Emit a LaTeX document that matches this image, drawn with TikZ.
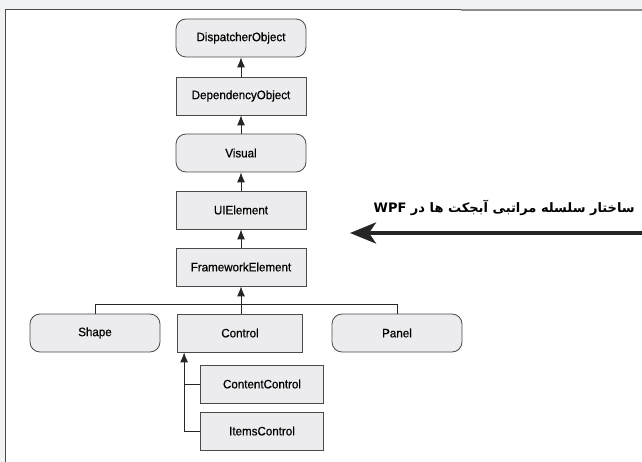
\documentclass[tikz,border=0pt]{standalone}
\usepackage{fontspec}
\usetikzlibrary{arrows.meta}
\TeXXeTstate=1
\newfontfamily\boxfont{Liberation Sans}[FakeStretch=0.95,FakeBold=0.5]
\newfontfamily\persianfont[Script=Arabic]{DejaVu Sans}
\definecolor{boxgray}{HTML}{ECECEE}
\definecolor{edgegray}{HTML}{4A4A4A}
\definecolor{bandgray}{HTML}{F1F2F4}
\tikzset{
    cls/.style={draw=edgegray,fill=boxgray,line width=0.8pt,minimum width=130pt,
        minimum height=38pt,inner sep=0pt,font=\boxfont\fontsize{12.2}{14}\selectfont},
    rcls/.style={cls,rounded corners=10pt},
    sub/.style={cls,minimum width=123pt},
    inh/.style={draw=black!85,line width=0.9pt,-{Latex[length=10pt,width=8pt]}},
    link/.style={draw=black!85,line width=0.9pt},
    bigarr/.style={draw=black!85,line width=4pt,-{Stealth[length=26pt,width=21pt,inset=7pt]}}
}
\begin{document}
\begin{tikzpicture}[x=1pt,y=-1pt]
    \useasboundingbox (0,0) rectangle (642,462);
    % frame
    \fill[bandgray] (0,0) rectangle (642,10);
    \fill[bandgray] (0,10) rectangle (5,462);
    \draw[edgegray,line width=1pt] (5,462) -- (5,10) -- (461,10);
    \draw[black!45,line width=1.6pt] (461,10.3) -- (642,10.3);
    % main chain
    \node[rcls] (disp) at (241,38) {DispatcherObject};
    \node[cls] (dep) at (241,96) {DependencyObject};
    \node[rcls] (vis) at (241,153) {Visual};
    \node[cls] (uie) at (241,210) {UIElement};
    \node[cls] (fwe) at (241,267) {FrameworkElement};
    \draw[inh] (dep) -- (disp);
    \draw[inh] (vis) -- (dep);
    \draw[inh] (uie) -- (vis);
    \draw[inh] (fwe) -- (uie);
    % children of FrameworkElement
    \node[rcls] (shape) at (95,333) {Shape};
    \node[cls,minimum width=125pt] (ctrl) at (240,333) {Control};
    \node[rcls] (panel) at (397,333) {Panel};
    \coordinate (bus) at (241,304);
    \draw[link] (shape.north) -- (shape.north |- bus) -- (panel.north |- bus) -- (panel.north);
    \draw[link] (ctrl.north -| bus) -- (bus);
    \draw[inh] (bus) -- (fwe);
    % children of Control
    \node[sub] (cc) at (262,384) {ContentControl};
    \node[sub] (ic) at (262,431) {ItemsControl};
    \coordinate (cfoot) at ([xshift=7pt]ctrl.south west);
    \draw[inh] (ic.west) -| (cfoot);
    \draw[link] (cc.west) -- (cc.west -| cfoot);
    % caption with arrow
    \coordinate (arrstart) at (642,233);
    \coordinate (arrtip) at (350,233);
    \draw[bigarr] (arrstart) -- (arrtip);
    \node[anchor=base east,inner sep=0pt,font=\persianfont\bfseries\fontsize{13}{15}\selectfont] (title) at (635,213)
        {\beginR ساختار سلسله مراتبی آبجکت ها در \beginL WPF\endL\endR};
\end{tikzpicture}
\end{document}
